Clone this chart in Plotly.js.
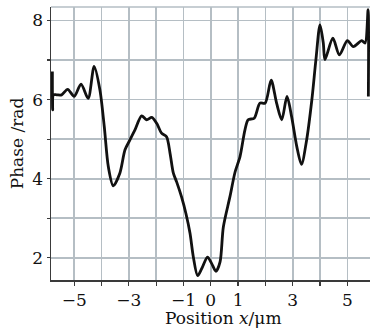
<!DOCTYPE html>
<html>
<head>
<meta charset="utf-8">
<script src="https://cdn.plot.ly/plotly-3.0.1.min.js"></script>
<style>
  html, body { margin: 0; padding: 0; background: #fff; }
  #chart { width: 370px; height: 333px; }
</style>
</head>
<body>
<div id="chart"></div>
<script>
// Position x (μm)
const positionX = [
  -5.80, -5.79, -5.76, -5.64, -5.46, -5.24, -5.00, -4.75, -4.49, -4.27,
  -4.06, -3.90, -3.75, -3.57, -3.33, -3.14, -2.96, -2.78, -2.53, -2.35,
  -2.16, -1.98, -1.80, -1.62, -1.49, -1.37, -1.25, -1.07, -0.91, -0.76,
  -0.64, -0.48, -0.33, -0.12, 0.03, 0.19, 0.34, 0.46, 0.70, 0.89,
  1.07, 1.25, 1.37, 1.59, 1.80, 1.99, 2.21, 2.41, 2.60, 2.79,
  2.96, 3.15, 3.32, 3.51, 3.70, 3.85, 4.00, 4.12, 4.18, 4.47,
  4.71, 5.00, 5.22, 5.53, 5.65, 5.76, 5.77
];
// Phase (rad)
const phaseY = [
  6.71, 5.74, 6.12, 6.12, 6.12, 6.26, 6.08, 6.39, 6.03, 6.84,
  6.25, 5.32, 4.30, 3.82, 4.14, 4.73, 4.98, 5.23, 5.59, 5.49,
  5.55, 5.40, 5.15, 5.06, 4.64, 4.14, 3.92, 3.54, 3.12, 2.62,
  2.03, 1.55, 1.73, 2.02, 1.86, 1.66, 1.90, 2.78, 3.54, 4.17,
  4.56, 5.23, 5.49, 5.53, 5.91, 5.91, 6.49, 5.91, 5.49, 6.08,
  5.57, 4.81, 4.36, 4.98, 5.99, 7.01, 7.89, 7.43, 7.01, 7.55,
  7.13, 7.49, 7.34, 7.49, 7.43, 8.27, 6.08
];
const xTickVals = [-5, -3, -1, 0, 1, 3, 5];
const xTickText = ['\u22125', '\u22123', '\u22121', '0', '1', '3', '5'];
const yTickVals = [2, 4, 6, 8];

const gridColor = '#b5bec4';
const axisColor = '#3a3a3a';
const fontFam = '"DejaVu Serif", "Liberation Serif", serif';

const trace = {
  x: positionX,
  y: phaseY,
  type: 'scatter',
  mode: 'lines',
  line: { color: '#111111', width: 2.8, shape: 'spline', smoothing: 0.8 },
  hoverinfo: 'skip'
};

const layout = {
  width: 370,
  height: 333,
  margin: { l: 51, r: 0, t: 7, b: 53 },
  paper_bgcolor: '#ffffff',
  plot_bgcolor: '#ffffff',
  showlegend: false,
  font: { family: fontFam, size: 17, color: '#111111' },
  xaxis: {
    range: [-5.85, 5.83],
    tickmode: 'array',
    tickvals: xTickVals,
    ticktext: xTickText,
    ticks: 'outside',
    ticklen: 4,
    tickwidth: 1.3,
    tickcolor: axisColor,
    showgrid: true,
    gridcolor: gridColor,
    gridwidth: 1.6,
    minor: { tickmode: 'linear', tick0: 0, dtick: 1, ticks: 'outside', ticklen: 4, tickwidth: 1.3, tickcolor: axisColor, showgrid: true, gridcolor: gridColor, gridwidth: 1.6 },
    zeroline: false,
    showline: true,
    linecolor: axisColor,
    linewidth: 1.5,
    tickfont: { family: fontFam, size: 17, color: '#111111' },
    fixedrange: true
  },
  yaxis: {
    range: [1.44, 8.34],
    tickmode: 'array',
    tickvals: yTickVals,
    ticks: 'outside',
    ticklen: 3,
    tickwidth: 1.3,
    tickcolor: axisColor,
    showgrid: true,
    gridcolor: gridColor,
    gridwidth: 1.6,
    minor: { tickmode: 'linear', tick0: 0, dtick: 1, ticks: 'outside', ticklen: 3, tickwidth: 1.3, tickcolor: axisColor, showgrid: true, gridcolor: gridColor, gridwidth: 1.6 },
    zeroline: false,
    showline: true,
    linecolor: axisColor,
    linewidth: 1.5,
    tickfont: { family: fontFam, size: 17, color: '#111111' },
    title: { text: 'Phase /rad', font: { family: fontFam, size: 17, color: '#111111' }, standoff: 4 },
    fixedrange: true
  },
  shapes: [
    { type: 'line', xref: 'paper', yref: 'paper', x0: 0, x1: 1, y0: 1, y1: 1, line: { color: gridColor, width: 1.6 } }
  ],
  annotations: [
    {
      text: 'Position <i>x</i>/μm',
      xref: 'paper', yref: 'paper',
      x: 0.541, y: -0.139,
      xanchor: 'center', yanchor: 'middle',
      showarrow: false,
      font: { family: fontFam, size: 17, color: '#111111' }
    }
  ]
};

Plotly.newPlot('chart', [trace], layout, { displayModeBar: false, staticPlot: true });
</script>
</body>
</html>
